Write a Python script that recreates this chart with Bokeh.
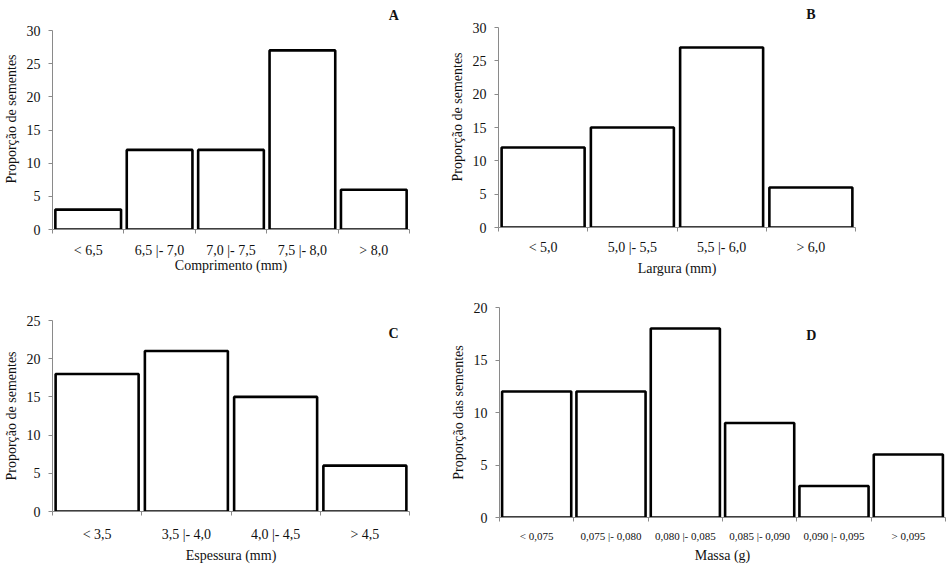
import numpy as np
from bokeh.plotting import figure
from bokeh.layouts import column, row
from bokeh.models import Range1d, FixedTicker, Label
from bokeh.embed import file_html
from bokeh.resources import INLINE

# ---------------- data ----------------
cats_a = ["< 6,5", "6,5 |- 7,0", "7,0 |- 7,5", "7,5 |- 8,0", "> 8,0"]
vals_a = [3, 12, 12, 27, 6]

cats_b = ["< 5,0", "5,0 |- 5,5", "5,5 |- 6,0", "> 6,0"]
vals_b = [12, 15, 27, 6]

cats_c = ["< 3,5", "3,5 |- 4,0", "4,0 |- 4,5", "> 4,5"]
vals_c = [18, 21, 15, 6]

cats_d = ["< 0,075", "0,075 |- 0,080", "0,080 |- 0,085", "0,085 |- 0,090",
          "0,090 |- 0,095", "> 0,095"]
vals_d = [12, 12, 18, 9, 3, 6]

yticks_ab = [0, 5, 10, 15, 20, 25, 30]
yticks_c = [0, 5, 10, 15, 20, 25]
yticks_d = [0, 5, 10, 15, 20]

FONT = "Liberation Serif"
AXIS_GRAY = "#8a8a8a"
TXT = "#111111"


def panel(cats, vals, yticks, xlabel, ylabel, width, height, bl, br, bt, bb,
          y_end=None, tick_size="14px", bar_w=0.93, tick_so=11, lab_so=3):
    n = len(cats)
    if y_end is None:
        y_end = yticks[-1]
    p = figure(width=width, height=height, output_backend="svg",
               toolbar_location=None,
               x_range=Range1d(0, n), y_range=Range1d(yticks[0], y_end),
               min_border_left=bl, min_border_right=br,
               min_border_top=bt, min_border_bottom=bb)
    p.outline_line_color = None
    p.xgrid.visible = False
    p.ygrid.visible = False
    p.background_fill_color = "white"
    p.border_fill_color = "white"

    centers = list(np.arange(n) + 0.5)
    p.vbar(x=centers, top=vals, bottom=0, width=bar_w,
           fill_color="white", line_color="black", line_width=2.6)

    xa = p.xaxis[0]
    xa.ticker = FixedTicker(ticks=centers, minor_ticks=list(range(n + 1)))
    xa.major_label_overrides = {float(c): lab for c, lab in zip(centers, cats)}
    xa.major_tick_line_color = None
    xa.major_tick_out = 0
    xa.major_tick_in = 0
    xa.minor_tick_out = 4
    xa.minor_tick_in = 0
    xa.minor_tick_line_color = AXIS_GRAY
    xa.axis_line_color = AXIS_GRAY
    xa.major_label_text_font = FONT
    xa.major_label_text_font_size = tick_size
    xa.major_label_text_color = TXT
    xa.major_label_standoff = tick_so
    xa.axis_label = xlabel
    xa.axis_label_text_font = FONT
    xa.axis_label_text_font_size = "14px"
    xa.axis_label_text_font_style = "normal"
    xa.axis_label_text_color = TXT
    xa.axis_label_standoff = lab_so

    ya = p.yaxis[0]
    ya.ticker = FixedTicker(ticks=yticks)
    ya.bounds = (yticks[0], yticks[-1])
    ya.minor_tick_line_color = None
    ya.major_tick_out = 4
    ya.major_tick_in = 0
    ya.major_tick_line_color = AXIS_GRAY
    ya.axis_line_color = AXIS_GRAY
    ya.major_label_text_font = FONT
    ya.major_label_text_font_size = "14px"
    ya.major_label_text_color = TXT
    ya.major_label_standoff = 8
    ya.axis_label = ylabel
    ya.axis_label_text_font = FONT
    ya.axis_label_text_font_size = "14px"
    ya.axis_label_text_font_style = "normal"
    ya.axis_label_text_color = TXT
    ya.axis_label_standoff = 5
    return p


def label_letter(p, letter, x, y):
    p.add_layout(Label(x=x, y=y, text=letter, text_font=FONT,
                       text_font_size="14px", text_font_style="bold",
                       text_color=TXT, text_align="center",
                       text_baseline="middle"))


pA = panel(cats_a, vals_a, yticks_ab, "Comprimento (mm)", "Proporção de sementes",
           445, 282, 52, 36, 8, 53, y_end=33.32, bar_w=0.92, tick_so=9, lab_so=-3)
label_letter(pA, "A", 4.78, 32.26)
pB = panel(cats_b, vals_b, yticks_ab, "Largura (mm)", "Proporção de sementes",
           502, 282, 53, 92, 6, 55, y_end=33.15, tick_so=8, lab_so=3)
label_letter(pB, "B", 3.50, 31.9)
pC = panel(cats_c, vals_c, yticks_c, "Espessura (mm)", "Proporção de sementes",
           445, 283, 52, 36, 38, 47)
label_letter(pC, "C", 3.82, 23.36)
pD = panel(cats_d, vals_d, yticks_d, "Massa (g)", "Proporção das sementes",
           502, 283, 54, 2, 25, 48, tick_size="11px", tick_so=8, lab_so=3)
label_letter(pD, "D", 4.196, 17.36)

layout = column(row(column(pA), column(pB)), row(column(pC), column(pD)))
open("out.html", "w").write(file_html(layout, INLINE))
